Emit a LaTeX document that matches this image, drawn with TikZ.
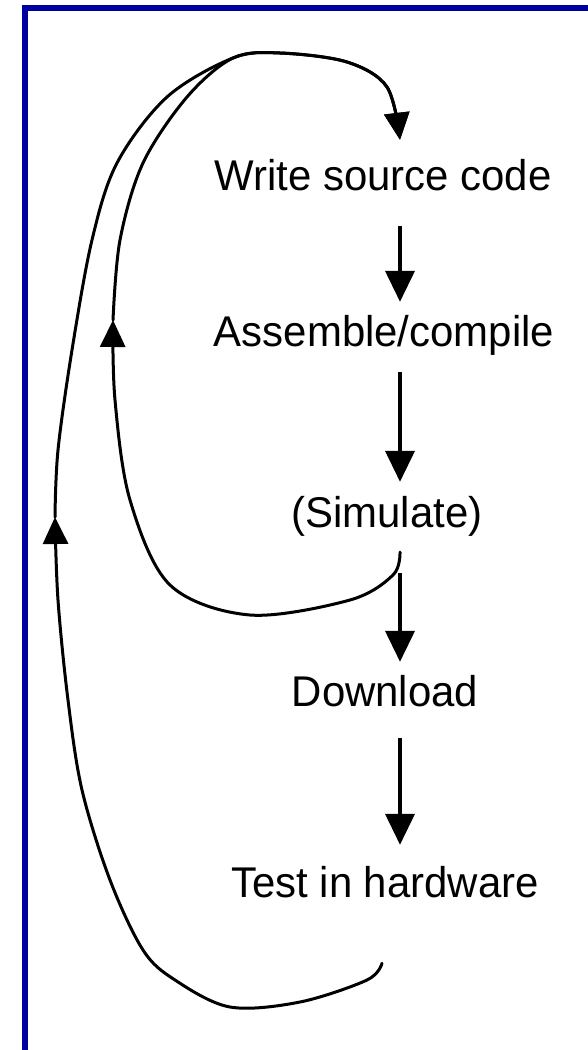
\documentclass[tikz,border=0pt]{standalone}
\usepackage{fontspec}
\setmainfont{Liberation Sans}
\usetikzlibrary{arrows.meta}
\definecolor{framebl}{RGB}{0,0,160}
\begin{document}
\begin{tikzpicture}[x=1pt,y=-1pt,
  lbl/.style={font=\fontsize{43}{50}\selectfont, anchor=base, inner sep=0pt,
    text height=32pt, text depth=9pt},
  flow/.style={line width=4pt, -{Triangle[width=29pt,length=31pt]}},
  looparrow/.style={line width=3pt, line cap=round, -{Triangle[width=25pt,length=27pt]}}
]
\useasboundingbox (0,0) rectangle (588,1050);
% frame
\fill[framebl] (22,5) rectangle (588,11);
\fill[framebl] (22,5) rectangle (28,1050);

% texts
\node[lbl] (write) at (383,190) {\scalebox{0.975}[1]{Write source code}};
\node[lbl] (asm)   at (384,346) {\scalebox{0.975}[1]{Assemble/compile}};
\node[lbl] (sim)   at (387,527) {\scalebox{0.975}[1]{(Simulate)}};
\node[lbl] (down)  at (385,706) {\scalebox{0.975}[1]{Download}};
\node[lbl] (test)  at (385,897) {\scalebox{0.975}[1]{Test in hardware}};

\coordinate (ax) at (400,0);

% straight arrows
\draw[flow, shorten <=27pt, shorten >=12pt] (write.south -| ax) -- (asm.north -| ax);
\draw[flow, shorten <=17pt, shorten >=13pt] (asm.south -| ax) -- (sim.north -| ax);
\draw[flow, shorten <=37pt, shorten >=12pt] (sim.south -| ax) -- (down.north -| ax);
\draw[flow, shorten <=23pt, shorten >=20pt] (down.south -| ax) -- (test.north -| ax);

% loop anchor points
\coordinate (simOut)  at ([yshift=-16pt]sim.south -| ax);
\coordinate (testOut) at ([yshift=-57pt]test.south -| 382,0);
\coordinate (innerTip) at (113,320);
\coordinate (outerTip) at (55,517);
\coordinate (join) at (233,58);
\coordinate (writeIn) at ([yshift=18pt]write.north -| ax);

% inner loop: simulate back to source
\draw[looparrow] plot[smooth, tension=0.55] coordinates {
  (simOut) (393,575) (350,600) (250,615) (170,585) (130,500) (115,400) (innerTip)};
\draw[looparrow] plot[smooth, tension=0.55] coordinates {
  (innerTip) (120,240) (143,163) (187,97) (join) (280,53) (347,62) (387,87) (writeIn)};

% outer loop: hardware test back to source
\draw[looparrow] plot[smooth, tension=0.55] coordinates {
  (testOut) (367,980) (300,1002) (230,1007) (175,980) (143,950) (110,880) (82,790)
  (68,700) (58,600) (outerTip)};
\draw[looparrow] plot[smooth, tension=0.55] coordinates {
  (outerTip) (58,450) (72,350) (92,240) (117,163) (167,97) (join) (280,53) (347,62) (387,87) (writeIn)};
\end{tikzpicture}
\end{document}
